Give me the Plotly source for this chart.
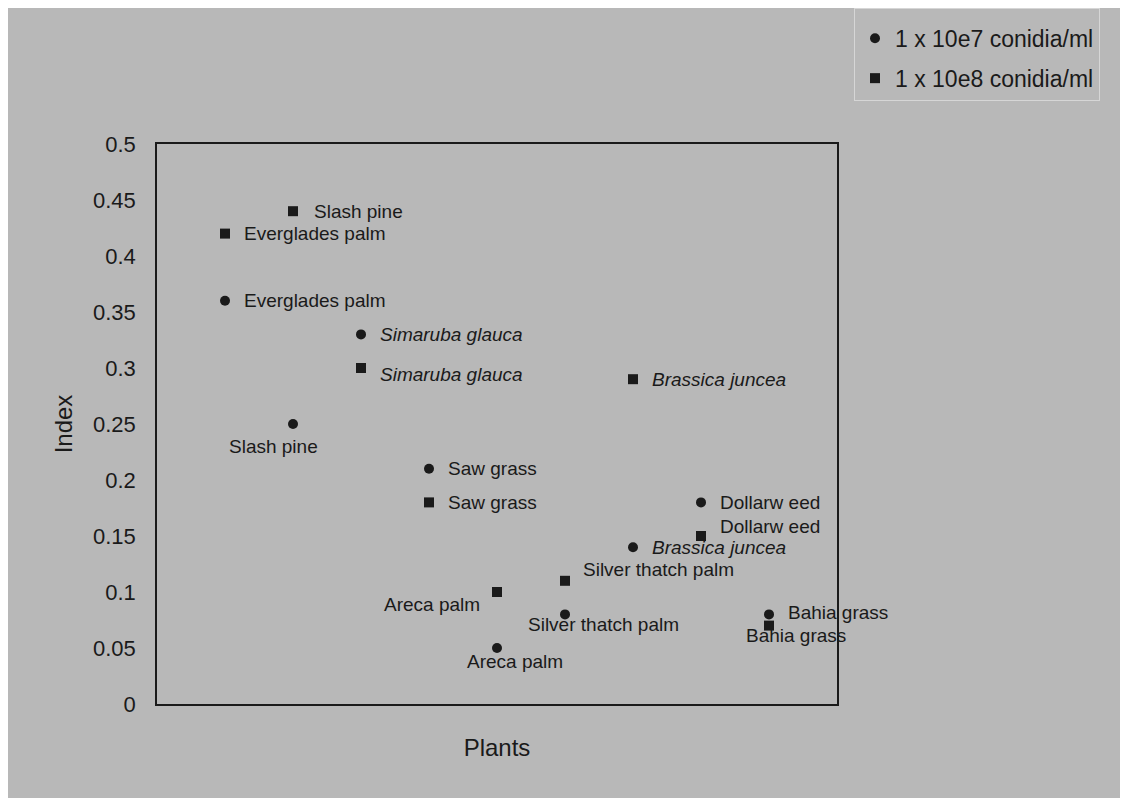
import plotly.graph_objects as go

# ---- data ----
plants = ["Everglades palm", "Slash pine", "<i>Simaruba glauca</i>", "Saw grass",
          "Areca palm", "Silver thatch palm", "<i>Brassica juncea</i>", "Dollarw eed",
          "Bahia grass"]
plant_pos = [1, 2, 3, 4, 5, 6, 7, 8, 9]
index_1e7 = [0.36, 0.25, 0.33, 0.21, 0.05, 0.08, 0.14, 0.18, 0.08]
index_1e8 = [0.42, 0.44, 0.30, 0.18, 0.10, 0.11, 0.29, 0.15, 0.07]
series_names = ["1 x 10e7 conidia/ml", "1 x 10e8 conidia/ml"]
y_ticks = [0, 0.05, 0.1, 0.15, 0.2, 0.25, 0.3, 0.35, 0.4, 0.45, 0.5]

# label placement (anchor, xshift, yshift) per point
place_1e7 = [("left", 17, 0), ("center", -20, -22), ("left", 17, 0), ("left", 17, 0),
             ("center", 18, -13), ("center", 38, -10), ("left", 17, 0), ("left", 17, 0),
             ("left", 17, 2)]
place_1e8 = [("left", 17, 0), ("left", 19, 0), ("left", 17, -6), ("left", 17, 0),
             ("right", -15, -12), ("left", 16, 11), ("left", 17, 0), ("left", 17, 10),
             ("center", 27, -10)]

BG = "#b8b8b8"
INK = "#1a1a1a"

fig = go.Figure()
fig.add_trace(go.Scatter(x=plant_pos, y=index_1e7, mode="markers", name=series_names[0],
                         legendgroup="a",
                         marker=dict(symbol="circle", size=10, color=INK)))
fig.add_trace(go.Scatter(x=plant_pos, y=index_1e8, mode="markers", name=series_names[1],
                         legendgroup="b",
                         marker=dict(symbol="square", size=10, color=INK)))

annotations = []
for vals, places in ((index_1e7, place_1e7), (index_1e8, place_1e8)):
    for xp, v, name, (anc, dx, dy) in zip(plant_pos, vals, plants, places):
        annotations.append(dict(x=xp, y=v, xref="x", yref="y", text=name, showarrow=False,
                                xanchor=anc, yanchor="middle", xshift=dx, yshift=dy,
                                font=dict(family="Liberation Sans, Arial", size=19, color=INK)))

# figure is offset by the page's 8px body margin
FW, FH = 1120, 790
L, T = 149, 136
PW, PH = 680, 560
R = FW - L - PW
B = FH - T - PH

fig.update_layout(
    width=FW, height=FH,
    margin=dict(l=L, r=R, t=T, b=B),
    paper_bgcolor=BG, plot_bgcolor=BG,
    font=dict(family="Liberation Sans, Arial", color=INK),
    annotations=annotations,
    showlegend=True,
    legend=dict(xref="container", yref="container",
                x=846 / FW, y=1.0, xanchor="left", yanchor="top",
                bgcolor=BG, bordercolor="#d6d6d6", borderwidth=1,
                font=dict(size=23, color=INK), tracegroupgap=7,
                title=dict(text=" ", font=dict(size=6)),
                itemwidth=30),
    xaxis=dict(range=[0, 10], showticklabels=False, ticks="", showgrid=False,
               zeroline=False, showline=True, linecolor=INK, linewidth=1.5, mirror=True,
               title=dict(text="Plants", font=dict(size=24), standoff=34)),
    yaxis=dict(range=[0, 0.5], tickvals=y_ticks, ticks="", showgrid=False,
               zeroline=False, showline=True, linecolor=INK, linewidth=1.5, mirror=True,
               tickfont=dict(size=22), ticklabelstandoff=15,
               title=dict(text="Index", font=dict(size=24), standoff=14)),
)

fig.write_html("out.html")
